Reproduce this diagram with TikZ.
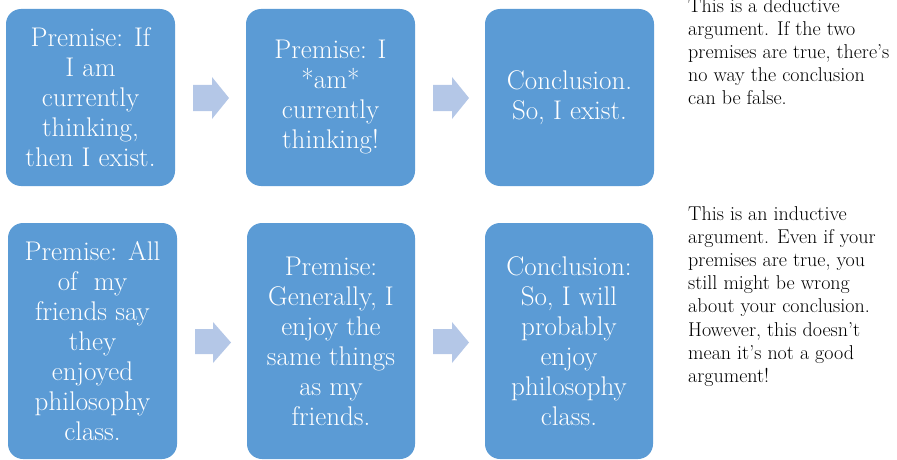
\documentclass[tikz,border=0pt]{standalone}
\usepackage{fontspec}
\definecolor{boxblue}{HTML}{5B9BD5}
\definecolor{arrowblue}{HTML}{B4C7E7}
\begin{document}
\begin{tikzpicture}[x=1pt,y=-1pt,
  stepbox/.style={fill=boxblue, draw=none, rounded corners=15pt, text=white,
    align=center, font=\fontsize{27}{30}\selectfont, inner sep=0pt},
  blockarrow/.style={fill=arrowblue, draw=none},
  note/.style={anchor=north west, align=left, inner sep=0pt, font=\fontsize{20}{23.2}\selectfont}]
\useasboundingbox (0,0) rectangle (897,460);
% top row boxes
\fill[boxblue, rounded corners=15pt] (6,9) rectangle (175,186);
\fill[boxblue, rounded corners=15pt] (246,9) rectangle (415,186);
\fill[boxblue, rounded corners=15pt] (485,9) rectangle (654,186);
% bottom row boxes
\fill[boxblue, rounded corners=15pt] (8,223) rectangle (177,459);
\fill[boxblue, rounded corners=15pt] (247,223) rectangle (415,459);
\fill[boxblue, rounded corners=15pt] (485,223) rectangle (653,459);
% texts in boxes
\node[stepbox] (b1) at (90.5,97.5) {Premise: If\\I am\\currently\\thinking,\\then I exist.};
\node[stepbox] (b2) at (330.5,97.5) {Premise: I\\*am*\\currently\\thinking!};
\node[stepbox] (b3) at (569.5,97.5) {Conclusion.\\So, I exist.};
\node[stepbox] (b4) at (92.5,341) {Premise: All\\of\ \ my\\friends say\\they\\enjoyed\\philosophy\\class.};
\node[stepbox] (b5) at (331,341) {Premise:\\Generally, I\\enjoy the\\same things\\as my\\friends.};
\node[stepbox] (b6) at (569,341) {Conclusion:\\So, I will\\probably\\enjoy\\philosophy\\class.};
% block arrows
\fill[blockarrow] (193,85) -- (212,85) -- (212,77) -- (229,98) -- (212,119) -- (212,111) -- (193,111) -- cycle;
\fill[blockarrow] (433,85) -- (452,85) -- (452,77) -- (469,98) -- (452,119) -- (452,111) -- (433,111) -- cycle;
\fill[blockarrow] (195,329) -- (213,329) -- (213,322) -- (231,342.5) -- (213,363) -- (213,354) -- (195,354) -- cycle;
\fill[blockarrow] (433,329) -- (452,329) -- (452,322) -- (469,342.5) -- (452,363) -- (452,354) -- (433,354) -- cycle;
% notes
\node[note] (n1) at (688,-2) {This is a deductive\\argument. If the two\\premises are true, there's\\no way the conclusion\\can be false.};
\node[note] (n2) at (688,206) {This is an inductive\\argument. Even if your\\premises are true, you\\still might be wrong\\about your conclusion.\\However, this doesn't\\mean it's not a good\\argument!};
\end{tikzpicture}
\end{document}
